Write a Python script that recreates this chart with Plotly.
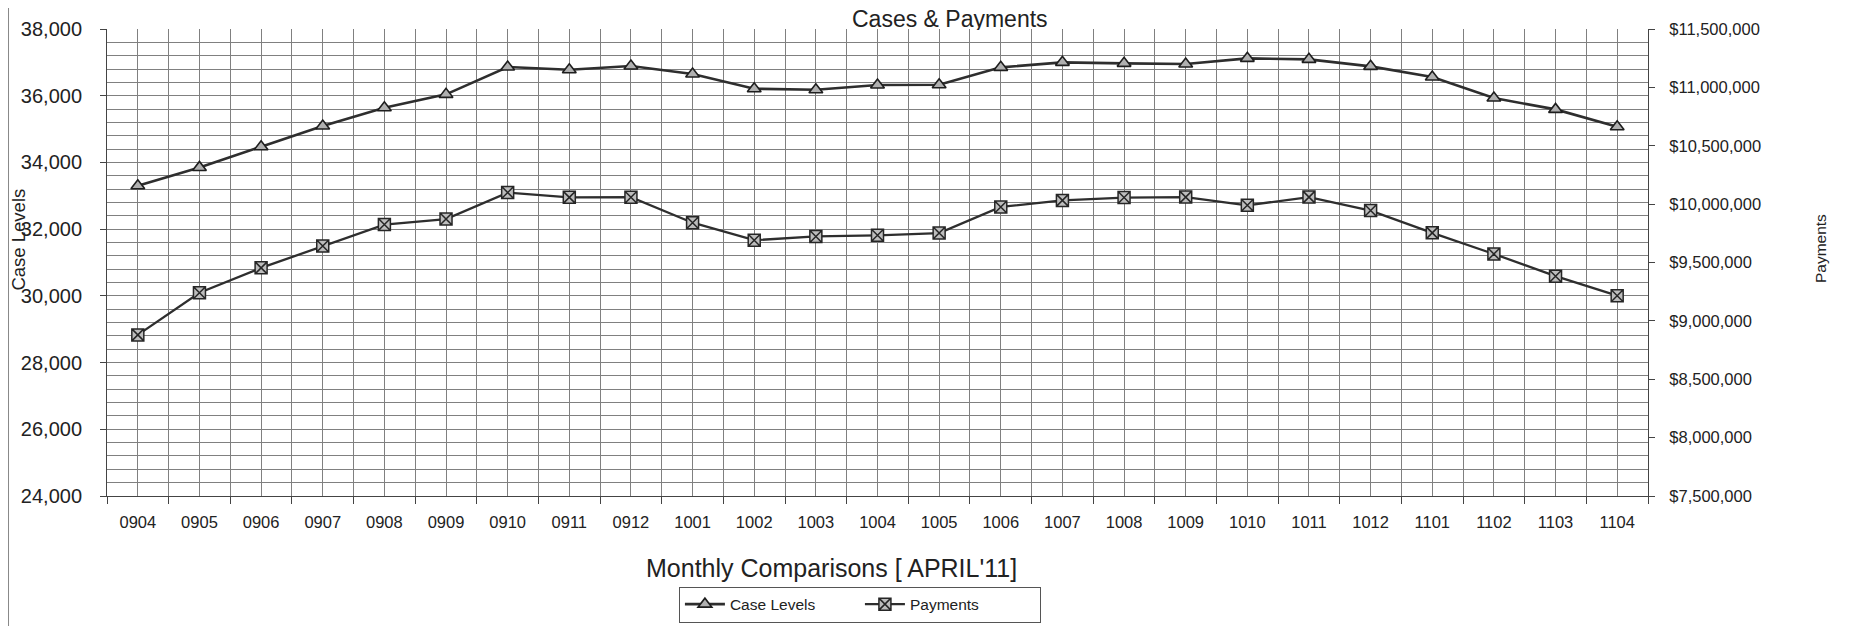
import plotly.graph_objects as go

months = ["0904", "0905", "0906", "0907", "0908", "0909", "0910", "0911", "0912",
          "1001", "1002", "1003", "1004", "1005", "1006", "1007", "1008", "1009",
          "1010", "1011", "1012", "1101", "1102", "1103", "1104"]

case_levels = [33300, 33850, 34470, 35090, 35640, 36040, 36860, 36780, 36890,
               36650, 36210, 36180, 36320, 36330, 36850, 37000, 36970, 36950,
               37120, 37090, 36880, 36560, 35930, 35590, 35070]

payments = [8880000, 9241000, 9454000, 9641000, 9825000, 9872000, 10099000, 10058000, 10059000,
            9841000, 9691000, 9723000, 9733000, 9752000, 9976000, 10032000, 10056000, 10060000,
            9990000, 10060000, 9945000, 9754000, 9573000, 9383000, 9216000]

left_ticks = [24000, 26000, 28000, 30000, 32000, 34000, 36000, 38000]
right_ticks = [7500000, 8000000, 8500000, 9000000, 9500000, 10000000, 10500000, 11000000, 11500000]
right_labels = ["${:,}".format(v) for v in right_ticks]

FONT = "Liberation Sans, Arial, sans-serif"
TXT = "#222222"
GRID = "#808080"
AX = "#444444"

xs = list(range(len(months)))
bounds = [i - 0.5 for i in range(len(months) + 1)]

fig = go.Figure()
fig.add_trace(go.Scatter(
    x=xs, y=case_levels, name="Case Levels", mode="lines+markers",
    line=dict(color="#2e2e2e", width=2.6),
    marker=dict(symbol="triangle-up", size=12, color="#b0b0b0",
                line=dict(color="#1e1e1e", width=1.6)),
))
fig.add_trace(go.Scatter(
    x=xs, y=payments, name="Payments", mode="lines+markers", yaxis="y2",
    line=dict(color="#2e2e2e", width=2.3),
    marker=dict(symbol="square-x", size=12, color="#bdbdbd",
                line=dict(color="#262626", width=1.5)),
))

fig.update_layout(
    width=1850, height=626,
    margin=dict(l=99, r=210, t=21, b=137.5, autoexpand=False),
    paper_bgcolor="white", plot_bgcolor="white",
    font=dict(family=FONT, color=TXT),
    showlegend=True,
    legend=dict(orientation="h", xref="container", yref="container",
                x=0.4605, xanchor="center", y=0.047, yanchor="middle",
                bordercolor="#555555", borderwidth=1, font=dict(size=15.5, color=TXT),
                entrywidth=125, itemwidth=40, bgcolor="white"),
    xaxis=dict(
        range=[-0.5, len(months) - 0.5], tickmode="array", tickvals=xs, ticktext=months,
        ticks="", showgrid=True, gridcolor=GRID, gridwidth=1,
        minor=dict(tickmode="array", tickvals=bounds, ticks="outside", ticklen=7,
                   tickcolor=AX, showgrid=True, gridcolor=GRID, gridwidth=1),
        showline=True, linecolor=AX, linewidth=1, zeroline=False, automargin=False,
        tickfont=dict(size=16.5, color=TXT), ticklabelstandoff=11,
    ),
    yaxis=dict(
        range=[left_ticks[0], left_ticks[-1]], tickmode="array", tickvals=left_ticks,
        tickformat=",", ticks="outside", ticklen=6, tickcolor=AX,
        showgrid=True, gridcolor=GRID, gridwidth=1,
        minor=dict(dtick=400, tick0=24000, showgrid=True, gridcolor=GRID, gridwidth=1),
        showline=True, linecolor=AX, linewidth=1, zeroline=False, automargin=False,
        tickfont=dict(size=20, color=TXT), ticklabelstandoff=14,
    ),
    yaxis2=dict(
        overlaying="y", side="right",
        range=[right_ticks[0], right_ticks[-1]], tickmode="array", tickvals=right_ticks,
        ticktext=right_labels, ticks="outside", ticklen=6, tickcolor=AX,
        showgrid=False, showline=True, linecolor=AX, linewidth=1, zeroline=False,
        automargin=False, tickfont=dict(size=16.5, color=TXT), ticklabelstandoff=11,
    ),
    annotations=[
        dict(text="Cases & Payments", xref="paper", yref="paper", x=0.547, y=0.9957,
             xanchor="center", yanchor="bottom", showarrow=False,
             height=22, borderpad=0, valign="middle",
             font=dict(size=23, color=TXT, family=FONT)),
        dict(text="Monthly Comparisons [ APRIL'11]", xref="paper", yref="paper",
             x=0.470, y=-0.155, xanchor="center", yanchor="middle", showarrow=False,
             font=dict(size=25, color=TXT, family=FONT)),
        dict(text="Case Levels", xref="paper", yref="paper", x=-0.0575, y=0.55,
             xanchor="center", yanchor="middle", textangle=-90, showarrow=False,
             font=dict(size=18.5, color=TXT, family=FONT)),
        dict(text="Payments", xref="paper", yref="paper", x=1.112, y=0.53,
             xanchor="center", yanchor="middle", textangle=-90, showarrow=False,
             font=dict(size=15.5, color=TXT, family=FONT)),
    ],
    shapes=[
        dict(type="line", xref="paper", yref="paper", x0=-0.0639, x1=-0.0639,
             y0=-0.3, y1=1.05, line=dict(color="#888888", width=1)),
    ],
)

fig.write_html("out.html")
